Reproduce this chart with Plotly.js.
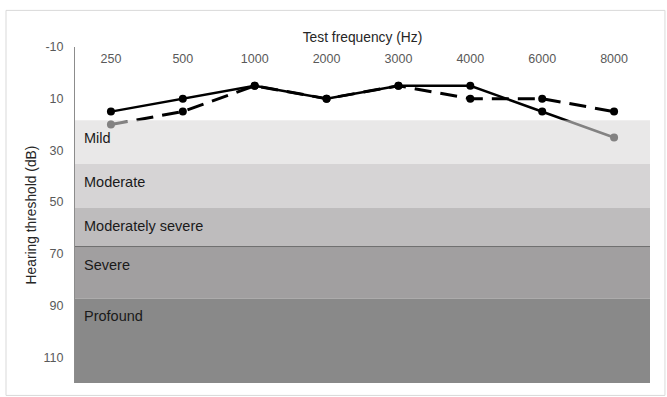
<!DOCTYPE html>
<html>
<head>
<meta charset="utf-8">
<script src="https://cdn.plot.ly/plotly-3.0.1.min.js"></script>
<style>html,body{margin:0;padding:0;background:#fff;}#chart{width:667px;height:397px;}</style>
</head>
<body>
<div id="chart"></div>
<script>
var frequencies = ['250', '500', '1000', '2000', '3000', '4000', '6000', '8000'];
var solidSeries = [15, 10, 5, 10, 5, 5, 15, 25];
var dashedSeries = [20, 15, 5, 10, 5, 10, 10, 15];

var bandNames = ['Mild', 'Moderate', 'Moderately severe', 'Severe', 'Profound'];
var bandTop = [18.3, 35.3, 52.3, 67.2, 87.3];
var bandBottom = [35.3, 52.3, 67.2, 87.3, 120];
var bandColors = ['rgb(218,216,217)', 'rgb(214,212,213)', 'rgb(190,188,189)', 'rgb(161,159,160)', 'rgb(137,137,137)'];
var bandOpacity = [0.6, 1, 1, 1, 1];

var yTickVals = [-10, 10, 30, 50, 70, 90, 110];

var traces = [
  {x: frequencies, y: dashedSeries, type: 'scatter', mode: 'lines+markers',
   line: {color: '#000', width: 3, dash: '17px,9px'}, marker: {color: '#000', size: 8}},
  {x: frequencies, y: solidSeries, type: 'scatter', mode: 'lines+markers',
   line: {color: '#000', width: 2.5}, marker: {color: '#000', size: 8}}
];

var shapes = [];
var annotations = [];
for (var i = 0; i < bandNames.length; i++) {
  shapes.push({type: 'rect', layer: 'above', xref: 'paper', yref: 'y', x0: 0, x1: 1,
    y0: bandTop[i], y1: bandBottom[i], fillcolor: bandColors[i], opacity: bandOpacity[i],
    line: {width: 0}});
  annotations.push({xref: 'paper', yref: 'y', x: 0, y: bandTop[i], xanchor: 'left', yanchor: 'middle',
    xshift: 7, yshift: -18, text: bandNames[i], showarrow: false,
    font: {family: 'Liberation Sans, Arial, sans-serif', size: 14.5, color: '#1a1a1a'}});
}
// dark boundary line above Severe
shapes.push({type: 'line', layer: 'above', xref: 'paper', yref: 'y', x0: 0, x1: 1,
  y0: bandTop[3], y1: bandTop[3], line: {color: '#6f6f6f', width: 1}});
// outer chart border
shapes.push({type: 'rect', layer: 'below', xref: 'paper', yref: 'paper', x0: -0.12, x1: 1.026,
  y0: -0.037, y1: 1.109, line: {color: '#d9d9d9', width: 1}, fillcolor: 'rgba(0,0,0,0)'});

var layout = {
  width: 667, height: 397,
  margin: {l: 75, r: 17, t: 47, b: 14},
  paper_bgcolor: '#fff', plot_bgcolor: '#fff',
  showlegend: false,
  font: {family: 'Liberation Sans, Arial, sans-serif', color: '#595959', size: 12.5},
  xaxis: {
    type: 'category', side: 'top', range: [-0.5, 7.5],
    anchor: 'free', position: 0.945,
    showgrid: false, zeroline: false, showline: false, ticks: '',
    tickfont: {size: 12.5, color: '#595959'},
    title: {text: 'Test frequency (Hz)', font: {size: 13.8, color: '#262626'}, standoff: 5}
  },
  yaxis: {
    range: [120, -10], autorange: false,
    tickvals: yTickVals, ticktext: yTickVals.map(String),
    showgrid: false, zeroline: false, showline: true, linecolor: '#8c8c8c', linewidth: 1,
    ticks: '', ticklabelstandoff: 8,
    tickfont: {size: 12.5, color: '#595959'},
    title: {text: 'Hearing threshold (dB)', font: {size: 13.8, color: '#262626'}, standoff: 3}
  },
  shapes: shapes,
  annotations: annotations
};

Plotly.newPlot('chart', traces, layout, {staticPlot: true, displayModeBar: false});
</script>
</body>
</html>
